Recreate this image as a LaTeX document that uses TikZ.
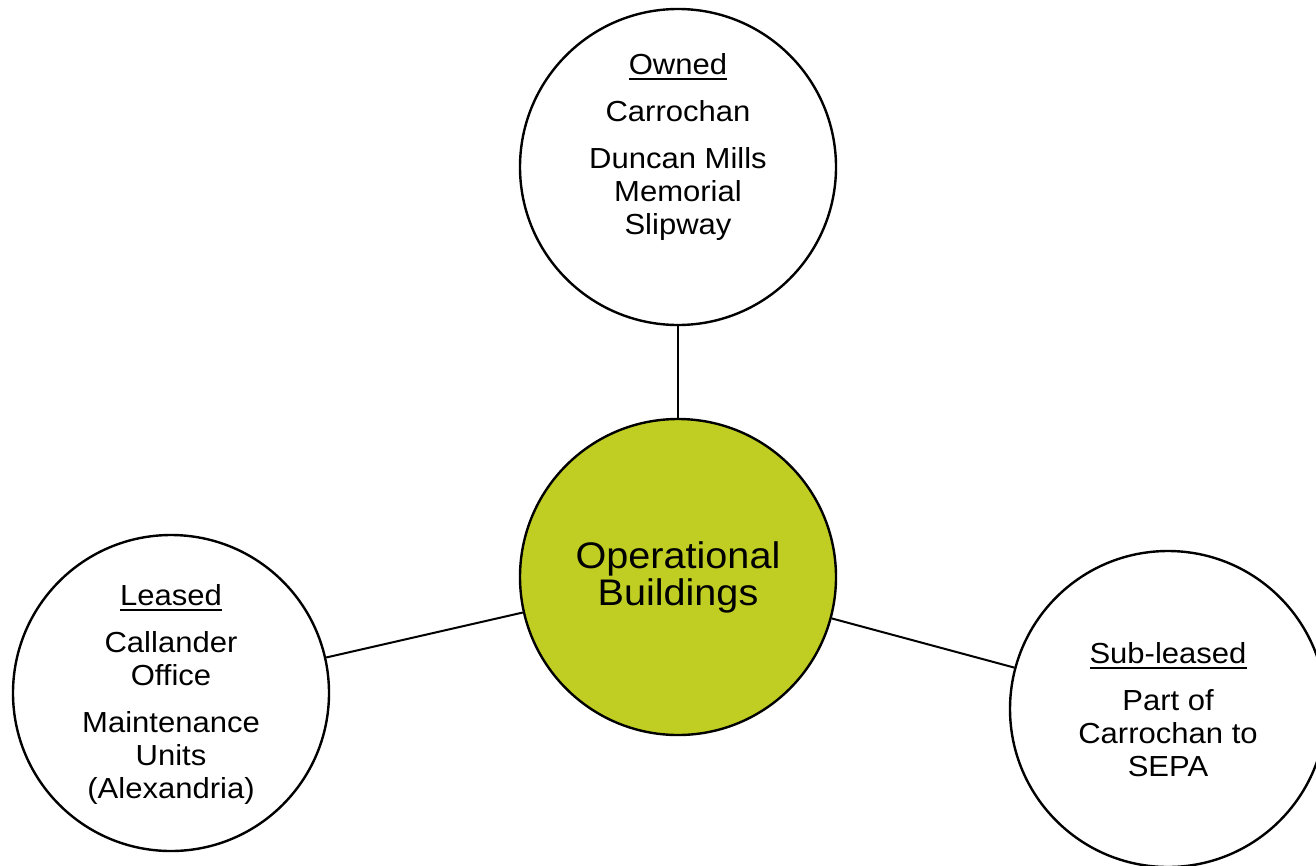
\documentclass[tikz,border=0pt]{standalone}
\usepackage{fontspec}
\setmainfont{Liberation Sans}[FakeStretch=1.07]
\usetikzlibrary{shapes,arrows,positioning}
\definecolor{hubgreen}{RGB}{192,206,35}
\newcommand{\undl}[1]{\setbox0\hbox{#1}\rlap{\rule[-6pt]{\wd0}{2pt}}\box0}
\begin{document}
\begin{tikzpicture}[x=1pt,y=-1pt]
		\tikzstyle {leaf circle} = [draw, circle, line width=2.4pt, minimum size=316pt, inner sep=0pt, fill=white]
		\tikzstyle {hub circle} = [leaf circle, fill=hubgreen, align=center, font=\fontsize{37}{37}\selectfont]
		\tikzstyle {leaf text} = [align=center, inner sep=0pt, font=\fontsize{29}{33}\selectfont]
		\tikzstyle {spoke} = [line width=2pt]

		\useasboundingbox (0,0) rectangle (1316,865);

		\node[hub circle] (hub) at (678,577) {Operational\\Buildings};
		\node[leaf circle] (owned) at (678,167) {};
		\node[leaf circle] (leased) at (171,693) {};
		\node[leaf circle] (subleased) at (1168,709) {};

		\draw[spoke] (owned) -- (hub);
		\draw[spoke] (leased) -- (hub);
		\draw[spoke] (subleased) -- (hub);

		\node[leaf text, below=45pt of owned.north] (ownedtext) {\undl{Owned}\\[14pt]Carrochan\\[14pt]Duncan Mills\\Memorial\\Slipway};
		\node[leaf text, below=50pt of leased.north] (leasedtext) {\undl{Leased}\\[14pt]Callander\\Office\\[14pt]Maintenance\\Units\\(Alexandria)};
		\node[leaf text, below=92pt of subleased.north] (subleasedtext) {\undl{Sub-leased}\\[14pt]Part of\\Carrochan to\\SEPA};
\end{tikzpicture}
\end{document}
